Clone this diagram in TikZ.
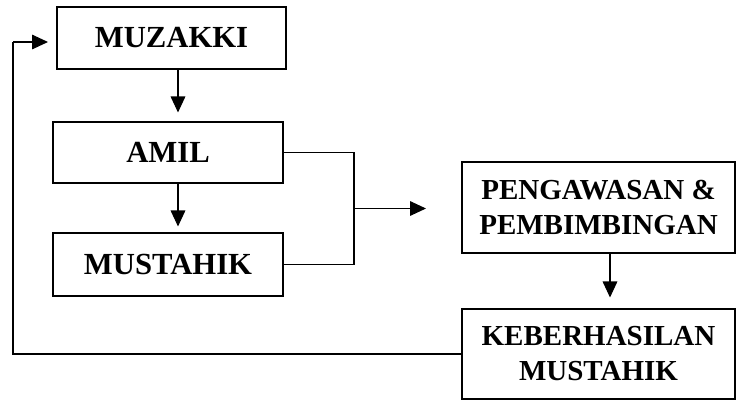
\documentclass[tikz,border=0pt]{standalone}
\usepackage{fontspec}
\setmainfont{Liberation Serif}
\usetikzlibrary{arrows.meta}
\begin{document}
\begin{tikzpicture}[x=0.75pt,y=-0.75pt,
  box/.style={draw,line width=0.8pt,rectangle,inner sep=0pt,align=center,font=\bfseries\fontsize{23}{27}\selectfont},
  bigbox/.style={box,font=\bfseries\fontsize{21.75}{26.25}\selectfont},
  conn/.style={line width=0.8pt},
  arr/.style={conn,-{Triangle[length=12pt,width=11pt]}}]
\useasboundingbox (0,0) rectangle (736,400);
\node[box,minimum width=229*0.75pt,minimum height=62*0.75pt] (muz) at (171.5,38) {MUZAKKI};
\node[box,minimum width=230*0.75pt,minimum height=61*0.75pt] (amil) at (168,152.5) {AMIL};
\node[box,minimum width=230*0.75pt,minimum height=63*0.75pt] (must) at (168,264.5) {MUSTAHIK};
\node[bigbox,minimum width=273*0.75pt,minimum height=91*0.75pt] (peng) at (598.5,207.5) {PENGAWASAN \&\\PEMBIMBINGAN};
\node[bigbox,minimum width=273*0.75pt,minimum height=90*0.75pt] (keb) at (598.5,354) {KEBERHASILAN\\MUSTAHIK};
\coordinate (cx) at (178,0);
\coordinate (px) at (610,0);
\coordinate (jx) at (354,208.5);
\coordinate (jend) at (426,208.5);
\coordinate (fa) at (13,42);
\coordinate (fe) at (48,42);
\draw[arr,shorten >=9*0.75pt] (muz.south -| cx) -- (amil.north -| cx);
\draw[arr,shorten >=6*0.75pt] (amil.south -| cx) -- (must.north -| cx);
\draw[conn] (amil.east) -| (jx) |- (must.east);
\draw[arr] (jx) -- (jend);
\draw[arr,shorten >=11*0.75pt] (peng.south -| px) -- (keb.north -| px);
\draw[conn] (keb.west) -| (fa);
\draw[arr] (fa) -- (fe);
\end{tikzpicture}
\end{document}
